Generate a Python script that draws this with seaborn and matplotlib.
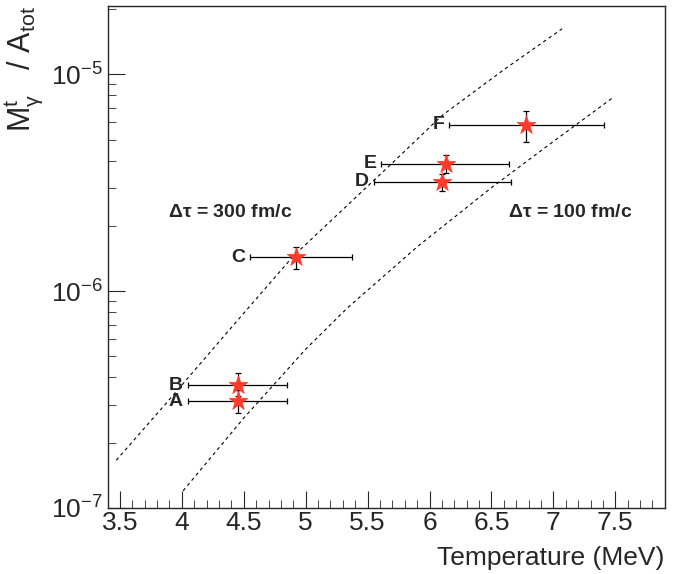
import numpy as np
import pandas as pd
import seaborn as sns
import matplotlib.pyplot as plt
from matplotlib.ticker import MultipleLocator, LogLocator, NullFormatter

# data points (Temperature in MeV, M/A)
labels = ['A', 'B', 'C', 'D', 'E', 'F']
temp = [4.45, 4.45, 4.92, 6.10, 6.13, 6.78]
temp_lo = [4.05, 4.05, 4.55, 5.55, 5.61, 6.16]
temp_hi = [4.85, 4.85, 5.37, 6.66, 6.64, 7.41]
yval = [3.1e-7, 3.68e-7, 1.43e-6, 3.2e-6, 3.86e-6, 5.86e-6]
y_lo = [2.75e-7, 3.3e-7, 1.27e-6, 2.9e-6, 3.5e-6, 4.86e-6]
y_hi = [3.5e-7, 4.2e-7, 1.6e-6, 3.48e-6, 4.26e-6, 6.8e-6]

# model curves
t300 = [3.47, 3.86, 4.4, 4.9, 5.34, 5.7, 6.1, 6.6, 7.07]
y300 = [1.66e-7, 2.98e-7, 6.8e-7, 1.45e-6, 2.5e-6, 3.9e-6, 6.45e-6, 1.05e-5, 1.62e-5]
t100 = [4.01, 4.5, 5.0, 5.34, 5.9, 6.5, 7.0, 7.48]
y100 = [1.2e-7, 2.6e-7, 5.4e-7, 8.4e-7, 1.6e-6, 3.0e-6, 4.9e-6, 7.8e-6]

sns.set_style('ticks')
plt.rcParams['font.family'] = ['Liberation Sans', 'DejaVu Sans']
plt.rcParams['mathtext.default'] = 'regular'

fig = plt.figure(figsize=(6.94, 5.74), dpi=100)
ax = fig.add_axes([0.155, 0.115, 0.803, 0.875])

df300 = pd.DataFrame({'T': t300, 'y': y300})
df100 = pd.DataFrame({'T': t100, 'y': y100})
sns.lineplot(data=df300, x='T', y='y', ax=ax, color='black', lw=0.8, linestyle=(0, (3, 3)))
sns.lineplot(data=df100, x='T', y='y', ax=ax, color='black', lw=0.8, linestyle=(0, (3, 3)))

xerr = [np.subtract(temp, temp_lo), np.subtract(temp_hi, temp)]
yerr = [np.subtract(yval, y_lo), np.subtract(y_hi, yval)]
ax.errorbar(temp, yval, xerr=xerr, yerr=yerr, fmt='none', ecolor='black',
            elinewidth=0.9, capsize=2.5, capthick=0.9)
pts = pd.DataFrame({'T': temp, 'y': yval})
sns.scatterplot(data=pts, x='T', y='y', ax=ax, marker='*', s=200, color='#ff3a2a',
                edgecolor='#ff3a2a', linewidth=0.5, zorder=5)

for lab, lo, y in zip(labels, temp_lo, yval):
    ax.text(lo - 0.04, y, lab, ha='right', va='center', fontsize=14, fontweight='bold')

ax.text(3.89, 2.3e-6, r'$\Delta\tau$ = 300 fm/c', fontsize=14, fontweight='bold', va='center')
ax.text(6.63, 2.3e-6, r'$\Delta\tau$ = 100 fm/c', fontsize=14, fontweight='bold', va='center')

ax.set_yscale('log')
ax.set_xlim(3.4, 7.9)
ax.set_ylim(1e-7, 2.07e-5)
ax.xaxis.set_minor_locator(MultipleLocator(0.1))
ax.yaxis.set_minor_locator(LogLocator(base=10, subs=np.arange(2, 10)))
ax.yaxis.set_minor_formatter(NullFormatter())
ax.set_xticks([3.5, 4, 4.5, 5, 5.5, 6, 6.5, 7, 7.5])
ax.set_xticklabels(['3.5', '4', '4.5', '5', '5.5', '6', '6.5', '7', '7.5'])
ax.tick_params(which='both', direction='in', labelsize=19, top=False, right=False)
ax.tick_params(which='major', length=12)
ax.tick_params(which='minor', length=6)
ax.tick_params(axis='x', pad=2)
for s in ax.spines.values():
    s.set_linewidth(1.0)

ax.set_xlabel('Temperature (MeV)', fontsize=19, loc='right', labelpad=8)
ax.set_ylabel(r'$M_{\gamma}^{t}$   / $A_{tot}$', fontsize=22, loc='top')

fig.savefig('out.png', dpi=100)
